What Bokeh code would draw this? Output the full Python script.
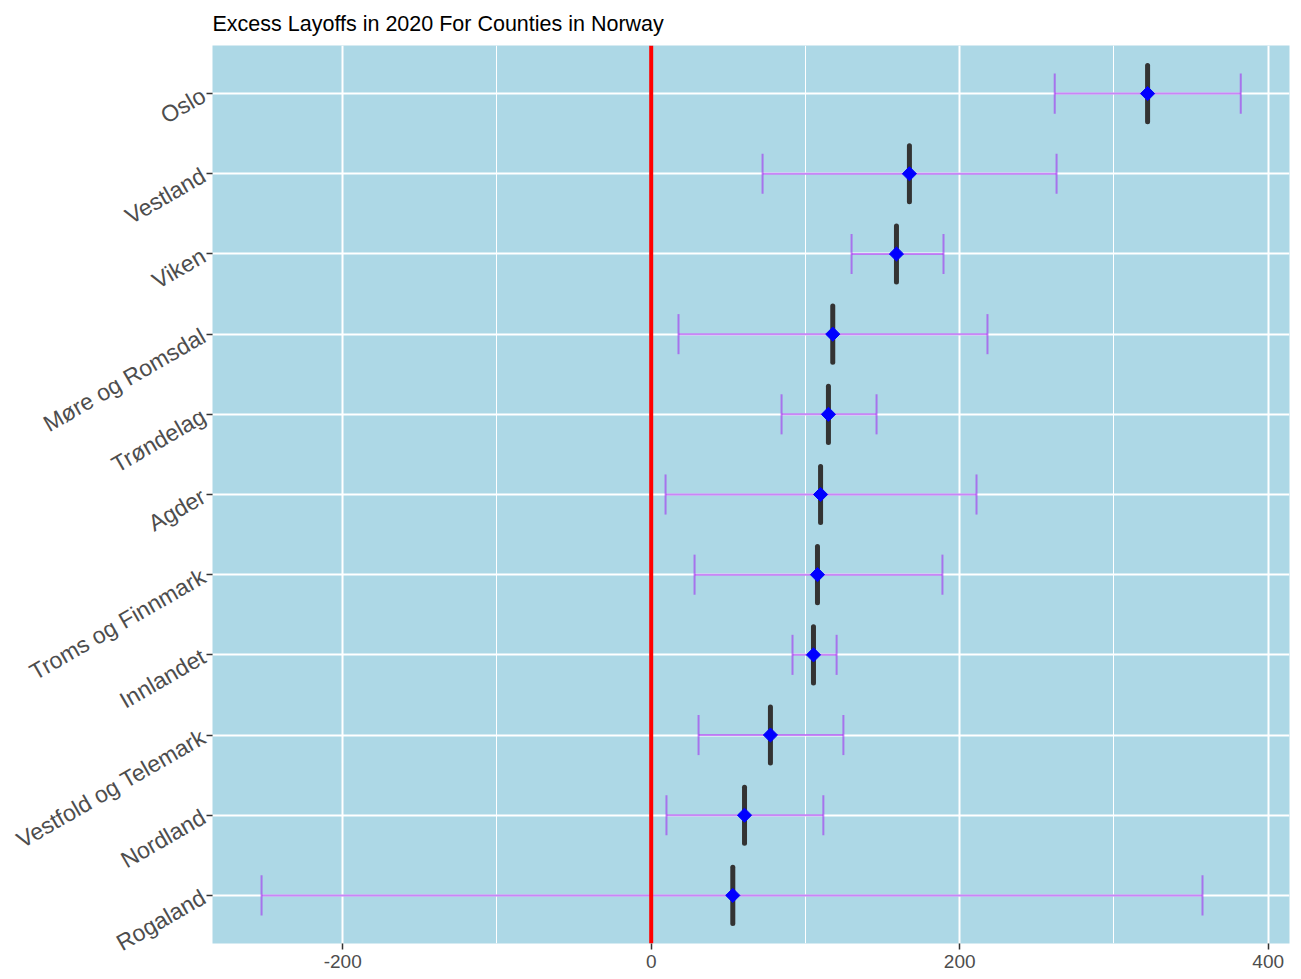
import math
from bokeh.plotting import figure
from bokeh.models import (FactorRange, Range1d, FixedTicker, Span, ColumnDataSource)
from bokeh.embed import file_html
from bokeh.resources import INLINE

# ---- data ----
counties = ["Oslo", "Vestland", "Viken", "Møre og Romsdal", "Trøndelag", "Agder",
            "Troms og Finnmark", "Innlandet", "Vestfold og Telemark", "Nordland", "Rogaland"]
estimate = [321.8, 167.4, 159.0, 117.7, 114.9, 109.8, 107.8, 105.2, 77.3, 60.5, 52.9]
lower = [261.6, 72.2, 129.9, 17.7, 84.5, 9.3, 28.1, 91.6, 30.7, 9.9, -252.6]
upper = [382.2, 262.8, 189.5, 218.0, 146.1, 210.9, 188.8, 120.2, 124.6, 111.6, 357.4]
x_ticks = [-200, 0, 200, 400]
x_tick_labels = ["-200", "0", "200", "400"]
x_minor = [-100, 100, 300]
title = "Excess Layoffs in 2020 For Counties in Norway"

factors = list(reversed(counties))  # bottom to top

src = ColumnDataSource(dict(
    county=counties, est=estimate, lo=lower, hi=upper,
    cap_y0=[(c, -0.25) for c in counties], cap_y1=[(c, 0.25) for c in counties],
    bar_y0=[(c, -0.35) for c in counties], bar_y1=[(c, 0.35) for c in counties],
))

p = figure(width=1301, height=979, output_backend="svg", toolbar_location=None,
           y_range=FactorRange(factors=factors, range_padding=0.1, range_padding_units="absolute"),
           x_range=Range1d(-284.4, 413.8),
           min_border_left=212, min_border_right=12, min_border_top=45, min_border_bottom=36,
           background_fill_color="#ADD8E6", border_fill_color="white", outline_line_color=None)

p.title.text = title
p.title.align = "left"
p.title.text_font = "Liberation Sans"
p.title.text_font_size = "21.5px"
p.title.text_font_style = "normal"
p.title.text_color = "black"
p.title.standoff = 19

# grids
p.xgrid.ticker = FixedTicker(ticks=x_ticks, minor_ticks=x_minor)
p.xaxis.ticker = FixedTicker(ticks=x_ticks, minor_ticks=x_minor)
p.xaxis.major_label_overrides = {t: s for t, s in zip(x_ticks, x_tick_labels)}
p.xgrid.grid_line_color = "white"
p.xgrid.grid_line_width = 2
p.xgrid.minor_grid_line_color = "white"
p.xgrid.minor_grid_line_width = 1
p.ygrid.grid_line_color = "white"
p.ygrid.grid_line_width = 2

# axes
for ax in (p.xaxis[0], p.yaxis[0]):
    ax.axis_line_color = None
    ax.major_tick_line_color = "#333333"
    ax.major_tick_line_width = 1.5
    ax.major_tick_out = 6
    ax.major_tick_in = 0
    ax.minor_tick_line_color = None
    ax.major_label_text_color = "#4D4D4D"
    ax.major_label_text_font = "Liberation Sans"
p.xaxis.major_label_text_font_size = "19px"
p.xaxis.major_label_standoff = 5
p.yaxis.major_label_text_font_size = "23px"
p.yaxis.major_label_orientation = math.pi / 6
p.yaxis.major_label_standoff = 3

# purple error bars
p.segment(x0="lo", x1="hi", y0="county", y1="county", source=src,
          line_color="#A020F0", line_alpha=0.55, line_width=2)
p.segment(x0="lo", x1="lo", y0="cap_y0", y1="cap_y1", source=src,
          line_color="#A020F0", line_alpha=0.55, line_width=2)
p.segment(x0="hi", x1="hi", y0="cap_y0", y1="cap_y1", source=src,
          line_color="#A020F0", line_alpha=0.55, line_width=2)

# red zero line
p.add_layout(Span(location=0, dimension="height", line_color="red", line_width=4))

# black vertical bars
p.segment(x0="est", x1="est", y0="bar_y0", y1="bar_y1", source=src,
          line_color="#333333", line_width=5, line_cap="round")

# blue diamonds
p.scatter(x="est", y="county", source=src, marker="square", angle=math.pi / 4,
          size=10, fill_color="blue", line_color="blue")

open("out.html", "w").write(file_html(p, INLINE))
